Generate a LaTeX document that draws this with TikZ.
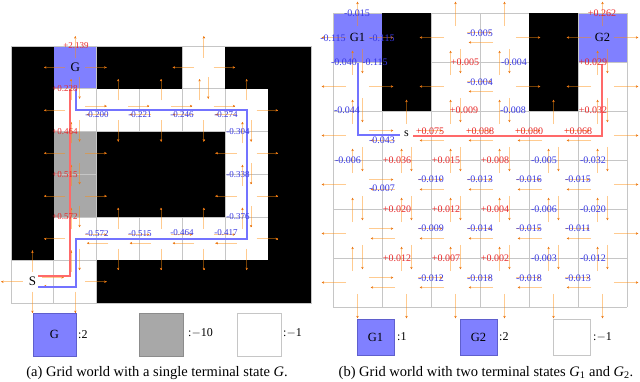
\documentclass[tikz,border=0pt]{standalone}
\usepackage{fontspec}
\setmainfont{Liberation Serif}
\usetikzlibrary{arrows.meta}
\definecolor{gblue}{RGB}{128,128,255}
\definecolor{gborder}{RGB}{95,95,205}
\definecolor{cellgray}{RGB}{168,168,168}
\definecolor{grayborder}{RGB}{140,140,140}
\definecolor{gridgray}{RGB}{198,198,198}
\definecolor{arrbase}{RGB}{255,140,10}
\definecolor{arrdark}{RGB}{235,120,20}
\definecolor{numred}{RGB}{232,40,40}
\definecolor{numblue}{RGB}{55,55,225}
\definecolor{pathred}{RGB}{255,105,105}
\definecolor{pathblue}{RGB}{115,115,255}
\newcommand\cellsA{1/0,4/0,1/1,2/1,3/1,4/1,5/1,1/2,5/2,1/3,5/3,1/4,2/4,3/4,4/4,5/4,0/5,1/5}
\newcommand\cellsB{0/0,2/0,3/0,5/0,0/1,2/1,3/1,5/1,0/2,1/2,2/2,3/2,4/2,5/2,0/3,1/3,2/3,3/3,4/3,5/3,0/4,1/4,2/4,3/4,4/4,5/4,0/5,1/5,2/5,3/5,4/5,5/5}
\newcommand\gridarrows[2]{%
  \foreach \ci/\rj in #2 {
    \foreach \dx/\dy in {1/0,-1/0,0/-1,0/1} {
      \pgfmathtruncatemacro\nc{\ci+(\dx)}
      \pgfmathtruncatemacro\nr{\rj+(\dy)}
      \ifcsname free#1-\nc-\nr\endcsname\def\off{0.1}\else\def\off{0}\fi
      \pgfmathsetmacro\bx{\ci+0.5+(\dy)*\off}
      \pgfmathsetmacro\by{\rj+0.5-(\dx)*\off}
      \pgfmathsetmacro\sx{\bx+0.23*(\dx)}
      \pgfmathsetmacro\sy{\by+0.23*(\dy)}
      \pgfmathsetmacro\mx{\bx+0.70*(\dx)}
      \pgfmathsetmacro\my{\by+0.70*(\dy)}
      \pgfmathsetmacro\ex{\bx+0.73*(\dx)}
      \pgfmathsetmacro\ey{\by+0.73*(\dy)}
      \draw[arrA] (\sx,\sy) -- (\ex,\ey);
      \draw[arrB] (\mx,\my) -- (\ex,\ey);
    }
  }%
}
\begin{document}
\begin{tikzpicture}[x=1pt,y=-1pt,
  gridline/.style={draw=gridgray,line width=0.8pt},
  arrA/.style={draw=arrbase,draw opacity=0.45,line width=0.85pt},
  arrB/.style={draw=arrdark,line width=0.5pt,-{Stealth[length=2.4pt,width=2.4pt]}},
  numa/.style={inner sep=0pt,font=\fontsize{9}{9}\selectfont},
  numb/.style={inner sep=0pt,font=\fontsize{10}{10}\selectfont},
  pathR/.style={draw=pathred,line width=1.1pt},
  pathB/.style={draw=pathblue,line width=1.1pt},
  bigl/.style={inner sep=0pt,font=\fontsize{13}{13}\selectfont},
  legl/.style={inner sep=0pt,anchor=west,font=\fontsize{12}{12}\selectfont},
  legin/.style={inner sep=0pt,font=\fontsize{12.5}{12.5}\selectfont},
  capl/.style={inner sep=0pt,font=\fontsize{14.5}{15}\selectfont}]
\fill[white] (0,0) rectangle (640,381);
\useasboundingbox (0,0) rectangle (640,381);
\foreach \a/\b in \cellsA {\expandafter\xdef\csname freeA-\a-\b\endcsname{1}}
\foreach \a/\b in \cellsB {\expandafter\xdef\csname freeB-\a-\b\endcsname{1}}
% ---------------- left grid
\begin{scope}[shift={(11,46)}]
\begin{scope}[x=42.857pt,y=-42.857pt]
  \fill[gblue] (1,0) rectangle (2,1);
  \fill[cellgray] (1,2) rectangle (2,4);
  \foreach \i in {0,...,7} \draw[gridline] (\i,0) -- (\i,6);
  \foreach \j in {0,...,6} \draw[gridline] (0,\j) -- (7,\j);
  \fill[black] (0,0) rectangle (1,5);
  \fill[black] (2,0) rectangle (4,1);
  \fill[black] (5,0) rectangle (7,1);
  \fill[black] (6,1) rectangle (7,6);
  \fill[black] (2,2) rectangle (5,4);
  \fill[black] (2,5) rectangle (6,6);
  \draw[gridline] (0,0) rectangle (7,6);
  \gridarrows{A}{\cellsA}
  \node[bigl] (gA) at (1.5,0.5) {G};
  \node[bigl] (sA) at (0.5,5.5) {S};
\end{scope}
\end{scope}
% ---------------- right grid
\begin{scope}[shift={(333,13)}]
\begin{scope}[x=49pt,y=-49pt]
  \fill[gblue] (0,0) rectangle (1,1);
  \fill[gblue] (5,0) rectangle (6,1);
  \foreach \i in {0,...,6} \draw[gridline] (\i,0) -- (\i,6);
  \foreach \j in {0,...,6} \draw[gridline] (0,\j) -- (6,\j);
  \fill[black] (1,0) rectangle (2,2);
  \fill[black] (4,0) rectangle (5,2);
  \gridarrows{B}{\cellsB}
  \node[bigl,font=\fontsize{12.5}{12.5}\selectfont] (g1) at (0.5,0.5) {G1};
  \node[bigl,font=\fontsize{12.5}{12.5}\selectfont] (g2) at (5.5,0.5) {G2};
  \node[bigl,font=\fontsize{12}{12}\selectfont] (sB) at (1.5,2.47) {s};
\end{scope}
\end{scope}
% ---------------- paths
\coordinate (ra1) at (38,276); \coordinate (ra2) at (70,276); \coordinate (ra3) at (70,89);
\draw[pathR] (ra1) -- (ra2) -- (ra3);
\coordinate (ba1) at (38,287); \coordinate (ba2) at (76,287); \coordinate (ba3) at (76,239);
\coordinate (ba4) at (247,239); \coordinate (ba5) at (247,110); \coordinate (ba6) at (76,110);
\coordinate (ba7) at (76,89);
\draw[pathB] (ba1) -- (ba2) -- (ba3) -- (ba4) -- (ba5) -- (ba6) -- (ba7);
\coordinate (bb1) at (400,135); \coordinate (bb2) at (358,135); \coordinate (bb3) at (358,63);
\draw[pathB] (bb1) -- (bb2) -- (bb3);
\coordinate (rb1) at (413,136); \coordinate (rb2) at (602,136); \coordinate (rb3) at (602,64);
\draw[pathR] (rb1) -- (rb2) -- (rb3);
% ---------------- labels
\foreach \t/\x/\y [count=\k] in {+2.139/76/46, +0.228/65/89, +0.464/65/132, +0.515/65/175, +0.572/65/217}
  {\node[numa,text=numred] (lra\k) at (\x,\y) {\t};}
\foreach \t/\x/\y [count=\k] in {-0.200/97/115, -0.221/140/115, -0.246/182/115, -0.274/226/115, -0.304/238/132, -0.338/238/175, -0.376/238/217, -0.417/226/233, -0.464/182/233, -0.515/140/234, -0.572/97/234}
  {\node[numa,text=numblue] (lba\k) at (\x,\y) {\t};}
\foreach \t/\x/\y [count=\k] in {+0.262/602/13, +0.005/465/62, +0.029/593/62, +0.009/464/110, +0.032/593/110, +0.075/430/131, +0.088/480/131, +0.080/529/131, +0.068/578/131, +0.036/397/160, +0.015/446/160, +0.008/495/160, +0.020/397/209, +0.012/446/209, +0.004/495/209, +0.012/397/258, +0.007/446/258, +0.002/495/258}
  {\node[numb,text=numred] (lrb\k) at (\x,\y) {\t};}
\foreach \t/\x/\y [count=\k] in {-0.015/357/13, -0.115/333/38, -0.115/382/38, -0.005/480/33, -0.040/344/62, -0.115/375/62, -0.004/514/62, -0.004/480/82, -0.044/347/110, -0.008/513/110, -0.043/382/140, -0.006/348/160, -0.005/544/160, -0.032/593/160, -0.007/382/188, -0.010/431/179, -0.013/480/179, -0.016/529/179, -0.015/578/179, -0.006/544/209, -0.020/593/209, -0.009/431/228, -0.014/480/228, -0.015/529/228, -0.011/578/228, -0.003/544/258, -0.012/593/258, -0.012/431/278, -0.018/480/278, -0.018/529/278, -0.013/578/278}
  {\node[numb,text=numblue] (lbb\k) at (\x,\y) {\t};}
% ---------------- legends
\filldraw[fill=gblue,draw=gborder,line width=0.6pt] (33,313) rectangle (76,356);
\node[legin] (legG) at (54.5,334.5) {G};
\node[legl] (legGt) at (78,335) {:2};
\filldraw[fill=cellgray,draw=grayborder,line width=0.6pt] (139,313) rectangle (183,356);
\node[legl] (legWt) at (188,333) {:$-$10};
\draw[gridgray,line width=0.8pt] (237,313) rectangle (281,356);
\node[legl] (legFt) at (283,333) {:$-$1};
\filldraw[fill=gblue,draw=gborder,line width=0.6pt] (357,319) rectangle (394,355);
\node[legin] (legG1) at (375.5,337) {G1};
\node[legl] (legG1t) at (397,337) {:1};
\filldraw[fill=gblue,draw=gborder,line width=0.6pt] (460,319) rectangle (497,355);
\node[legin] (legG2) at (478.5,337) {G2};
\node[legl] (legG2t) at (499,337) {:2};
\draw[gridgray,line width=0.8pt] (553,319) rectangle (590,355);
\node[legl] (legF2t) at (593,337) {:$-$1};
% ---------------- captions
\node[capl] (capA) at (157,373) {(a) Grid world with a single terminal state \textit{G}.};
\node[capl] (capB) at (486,373) {(b) Grid world with two terminal states \textit{G}\textsubscript{1} and \textit{G}\textsubscript{2}.};
\end{tikzpicture}
\end{document}
